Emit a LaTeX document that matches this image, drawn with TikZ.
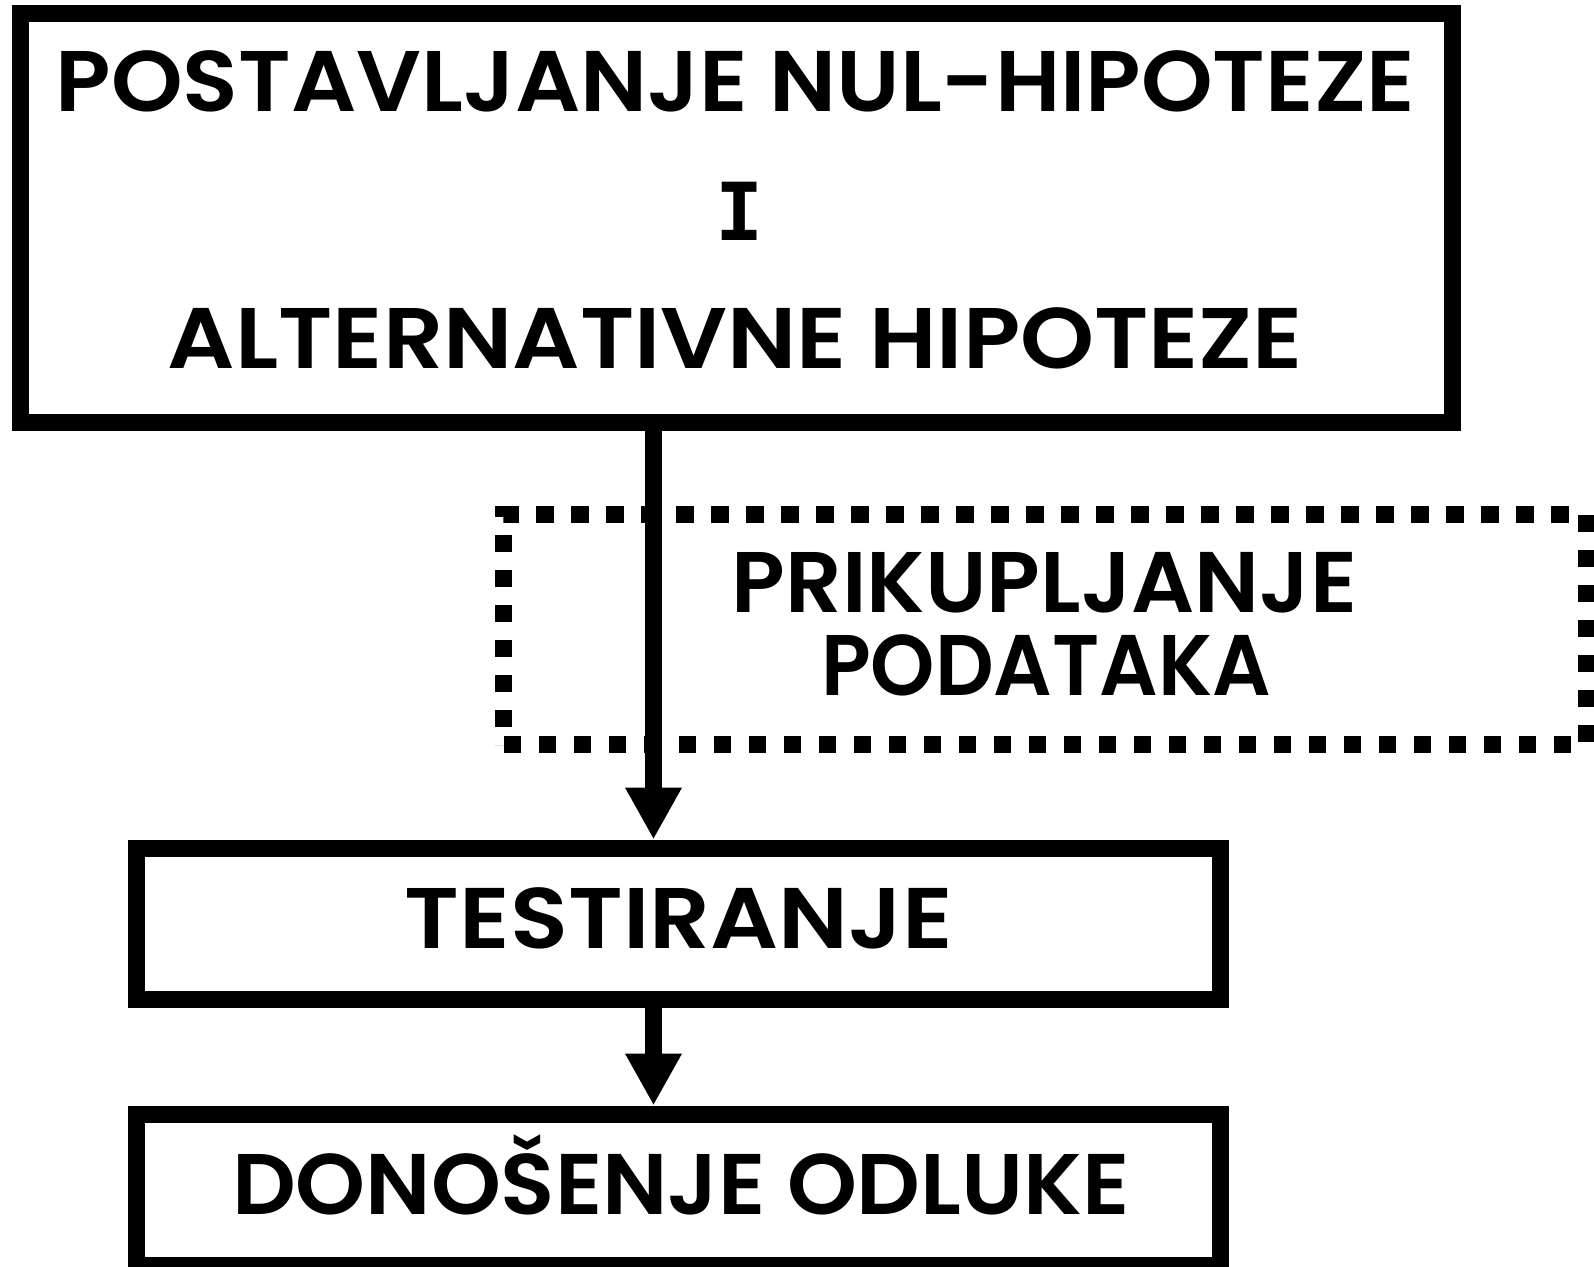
\documentclass[tikz,border=0pt]{standalone}
\usepackage{fontspec}
\usepackage{graphicx}
\setmainfont{Poppins}[BoldFont={Poppins SemiBold}]
\newfontfamily\serifI{DejaVu Sans Mono}
\usetikzlibrary{arrows.meta}
\newcommand\fitw[2]{\resizebox{#1}{\height}{#2}}
\tikzset{
  box/.style={draw, line width=8.5pt, inner sep=0pt, outer sep=0pt, fill=none},
  dotbox/.style={draw, line width=8.5pt, inner sep=0pt, outer sep=0pt, dash pattern=on 8.75pt off 8.75pt},
  lbl/.style={inner sep=0pt, outer sep=0pt, anchor=base, font=\fontsize{43pt}{50pt}\selectfont\bfseries},
  flow/.style={line width=8.5pt, -{Triangle[length=26pt, width=26.5pt]}, shorten >=4.25pt},
}
\begin{document}
\begin{tikzpicture}[x=0.5pt, y=-0.5pt]
\useasboundingbox (0,0) rectangle (1594,1267);
% boxes
\node[box, minimum width=716pt, minimum height=204.5pt] (top) at (736.5,218) {};
\node[dotbox, minimum width=541.25pt, minimum height=115pt] (data) at (1044.75,629.5) {};
\node[box, minimum width=542pt, minimum height=75.5pt] (test) at (678.5,923.5) {};
\node[box, minimum width=542pt, minimum height=75.75pt] (dec) at (678.5,1189.75) {};
% labels
\node[lbl] (t1) at (735.5,112) {\fitw{679.5pt}{POSTAVLJANJE NUL-HIPOTEZE}};
\node[lbl, font=\fontsize{40pt}{48pt}\selectfont\serifI\bfseries] (t2) at (740,241) {I};
\node[lbl] (t3) at (735.5,369) {\fitw{567.5pt}{ALTERNATIVNE HIPOTEZE}};
\node[lbl] (d1) at (1044.5,612) {\fitw{312.5pt}{PRIKUPLJANJE}};
\node[lbl] (d2) at (1046,695) {\fitw{225pt}{PODATAKA}};
\node[lbl] (tt) at (679,948) {\fitw{274pt}{TESTIRANJE}};
\node[lbl] (dt) at (681,1214) {\fitw{449pt}{DONOŠENJE ODLUKE}};
% connectors
\coordinate (ax) at (653.5,0);
\draw[flow] (top.south -| ax) -- (test.north -| ax);
\draw[flow] (test.south -| ax) -- (dec.north -| ax);
\end{tikzpicture}
\end{document}
